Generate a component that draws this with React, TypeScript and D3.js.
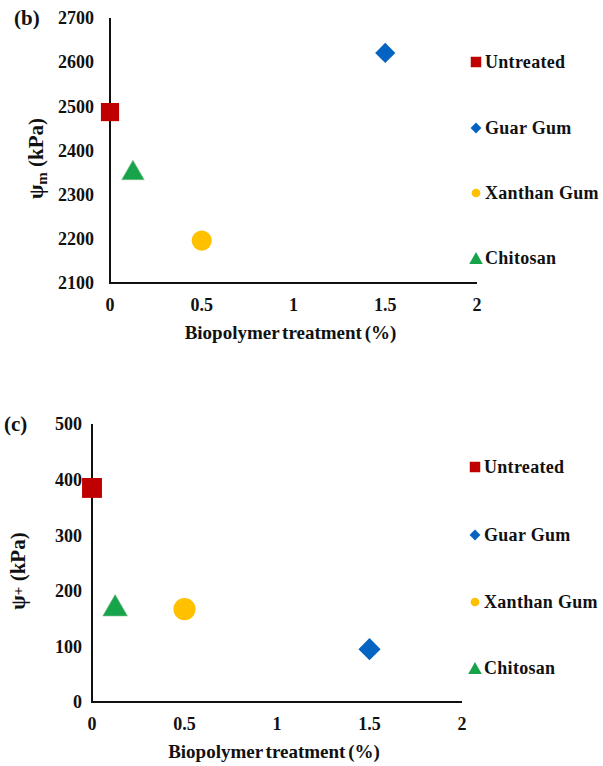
import React from 'react';
import { scaleLinear, symbol, symbolSquare, symbolDiamond2, symbolCircle, symbolTriangle } from 'd3';

const series = ['Untreated', 'Guar Gum', 'Xanthan Gum', 'Chitosan'];
const colors = ['#C00000', '#0563C1', '#FFC000', '#16A34A'];
const shapes = [symbolSquare, symbolDiamond2, symbolCircle, symbolTriangle];

const dosage = [0, 1.5, 0.5, 0.125];
const psiM = [2487, 2621, 2196, 2356];
const psiPlus = [385, 95, 167, 174];

const xTicks = [0, 0.5, 1, 1.5, 2];
const yTicksB = [2100, 2200, 2300, 2400, 2500, 2600, 2700];
const yTicksC = [0, 100, 200, 300, 400, 500];

const font = '"Liberation Serif", "Times New Roman", serif';

// marker areas for the plotted points (square, diamond, circle, triangle)
const markerSize = [330, 260, 320, 220];
const legendSize = [110, 75, 60, 80];

type PanelProps = {
  tag: string;
  tagX: number;
  sub: string;
  values: number[];
  yTicks: number[];
  left: number;
  right: number;
  top: number;
  bottom: number;
  tickGap: number;
  labelX: number;
  legendX: number;
  legendY: number[];
  markerScale: number;
};

// excel centres a triangle on its bounding box, d3 on its centroid
const triShift = (size: number, i: number) => (i === 3 ? Math.sqrt(size / (3 * Math.sqrt(3))) / 2 : 0);

const Panel = ({ tag, tagX, sub, values, yTicks, left, right, top, bottom, tickGap, labelX, legendX, legendY, markerScale }: PanelProps) => {
  const x = scaleLinear().domain([0, 2]).range([left, right]);
  const y = scaleLinear().domain([yTicks[0], yTicks[yTicks.length - 1]]).range([bottom, top]);
  const midY = (top + bottom) / 2 + 8;

  return (
    <g fontFamily={font} fontWeight="bold" fill="#111">
      <text x={tagX} y={top + 7} fontSize={21}>{tag}</text>

      {/* axes */}
      <line x1={left} x2={left} y1={top} y2={bottom + 1} stroke="#111" strokeWidth={2} />
      <line x1={left - 1} x2={right} y1={bottom} y2={bottom} stroke="#111" strokeWidth={2} />

      {yTicks.map(t => (
        <text key={t} x={left - tickGap} y={y(t)} dy="0.35em" textAnchor="end" fontSize={18}>{t}</text>
      ))}
      {xTicks.map(t => (
        <text key={t} x={x(t)} y={bottom + 22} dy="0.35em" textAnchor="middle" fontSize={18}>{t}</text>
      ))}

      <text x={(left + right) / 2 - 3} y={bottom + 56} textAnchor="middle" fontSize={19} wordSpacing={-2}>Biopolymer treatment (%)</text>

      <text transform={`translate(${labelX},${midY}) rotate(-90)`} textAnchor="middle" fontSize={21}>
        ψ<tspan fontSize={15} dy={sub === '+' ? -2 : 4}>{sub}</tspan><tspan dy={sub === '+' ? 2 : -4}> (kPa)</tspan>
      </text>

      {/* points */}
      {values.map((v, i) => {
        const size = markerSize[i] * markerScale;
        return (
          <path
            key={series[i]}
            transform={`translate(${x(dosage[i])},${y(v) + triShift(size, i)})`}
            d={symbol(shapes[i], size)() || ''}
            fill={colors[i]}
            stroke={i === 3 ? '#7fbf8f' : 'none'}
            strokeWidth={0.6}
          />
        );
      })}

      {/* legend */}
      {series.map((s, i) => (
        <g key={s} transform={`translate(${legendX},${legendY[i]})`}>
          <path d={symbol(shapes[i], legendSize[i])() || ''} transform={`translate(0,${triShift(legendSize[i], i)})`} fill={colors[i]} />
          <text x={9} dy="0.35em" fontSize={18} letterSpacing={0.3}>{s}</text>
        </g>
      ))}
    </g>
  );
};

const App = () => (
  <svg width={603} height={766} style={{ position: 'absolute', left: 0, top: 0, background: '#fff' }}>
    <Panel
      tag="(b)"
      tagX={14}
      sub="m"
      values={psiM}
      yTicks={yTicksB}
      left={110}
      right={477}
      top={18}
      bottom={283}
      tickGap={16}
      labelX={43}
      legendX={476}
      legendY={[62, 128, 193, 258]}
      markerScale={1}
    />
    <Panel
      tag="(c)"
      tagX={4}
      sub="+"
      values={psiPlus}
      yTicks={yTicksC}
      left={92}
      right={462}
      top={424}
      bottom={702}
      tickGap={10}
      labelX={25}
      legendX={475}
      legendY={[467, 535, 602, 668]}
      markerScale={1.2}
    />
  </svg>
);

export default App;
